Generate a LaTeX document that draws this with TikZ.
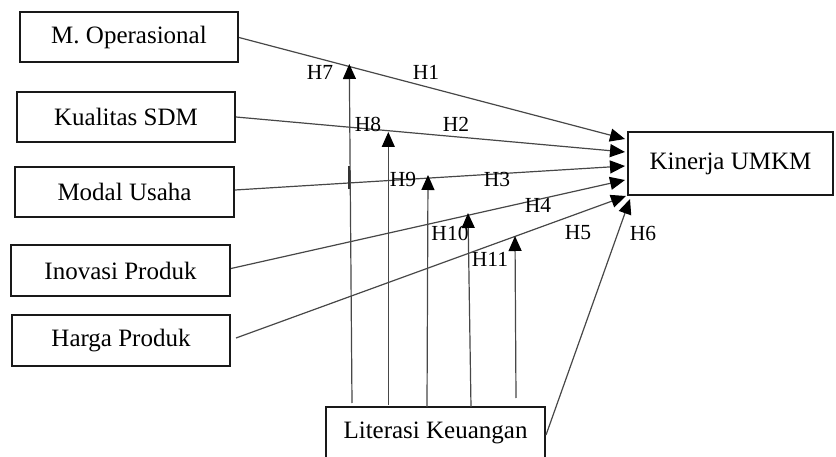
\documentclass[tikz,border=0pt]{standalone}
\usepackage{fontspec}
\setmainfont{Liberation Serif}
\usetikzlibrary{arrows.meta}
\begin{document}
\begin{tikzpicture}[x=1pt,y=-1pt,
  box/.style={draw=black!90,line width=2pt,rectangle,inner sep=0pt,
    font=\fontsize{25}{30}\selectfont},
  arr/.style={draw=black!72,line width=1.2pt,-{Triangle[length=15pt,width=13pt,color=black]}},
  hlab/.style={font=\fontsize{21.5}{25}\selectfont,inner sep=0pt}]
\useasboundingbox (0,0) rectangle (836,457);
\node[box,minimum width=218pt,minimum height=50pt] (mo) at (129,37.5) {M. Operasional};
\node[box,minimum width=218pt,minimum height=50pt] (ks) at (126,117) {Kualitas SDM};
\node[box,minimum width=219pt,minimum height=50pt] (mu) at (124.5,192) {Modal Usaha};
\node[box,minimum width=219pt,minimum height=51pt] (ip) at (120.5,270.5) {Inovasi Produk};
\node[box,minimum width=218pt,minimum height=51pt] (hp) at (121,340.5) {Harga Produk};
\node[box,minimum width=205pt,minimum height=63pt] (ku) at (730.5,163.5) {Kinerja UMKM};
\node[box,minimum width=219pt,minimum height=52pt] (lk) at (435.5,433) {Literasi Keuangan};
% tips on Kinerja UMKM
\coordinate (t1) at (625,139);
\coordinate (t2) at (625,152);
\coordinate (t3) at (625,166);
\coordinate (t4) at (625,180);
\coordinate (t5) at (626,196);
\coordinate (t6) at (630,199);
\draw[arr] (mo.east) -- (t1);
\draw[arr] (ks.east) -- (t2);
\draw[arr] ([yshift=2pt]mu.east) -- (t3);
\draw[arr] ([yshift=2pt]ip.east) -- (t4);
\draw[arr] ([xshift=5pt,yshift=2.5pt]hp.east) -- (t5);
\draw[arr] ([yshift=-2pt]lk.east) -- (t6);
% moderating arrows
\coordinate (b7) at (352,403); \coordinate (m7) at (349.3,64);
\coordinate (b8) at (388.3,405); \coordinate (m8) at (388.3,132);
\coordinate (b9) at (427,407); \coordinate (m9) at (428,175);
\coordinate (b10) at (471,407); \coordinate (m10) at (468,213);
\coordinate (b11) at (516,398); \coordinate (m11) at (515,236);
\draw[arr] (b7) -- (m7);
\draw[arr] (b8) -- (m8);
\draw[arr] (b9) -- (m9);
\draw[arr] (b10) -- (m10);
\draw[arr] (b11) -- (m11);
\coordinate (k1) at (348.8,166); \coordinate (k2) at (348.8,189);
\draw[black!80,line width=1.6pt] (k1) -- (k2);
% labels
\node[hlab] (lh7) at (320,72) {H7};
\node[hlab] (lh1) at (426,72) {H1};
\node[hlab] (lh8) at (368,124) {H8};
\node[hlab] (lh2) at (456,124) {H2};
\node[hlab] (lh9) at (403,179) {H9};
\node[hlab] (lh3) at (497,179) {H3};
\node[hlab] (lh4) at (538,205) {H4};
\node[hlab] (lh10) at (450,233) {H10};
\node[hlab] (lh5) at (578,233) {H5};
\node[hlab] (lh11) at (490,259) {H11};
\node[hlab] (lh6) at (643,233) {H6};
\end{tikzpicture}
\end{document}
